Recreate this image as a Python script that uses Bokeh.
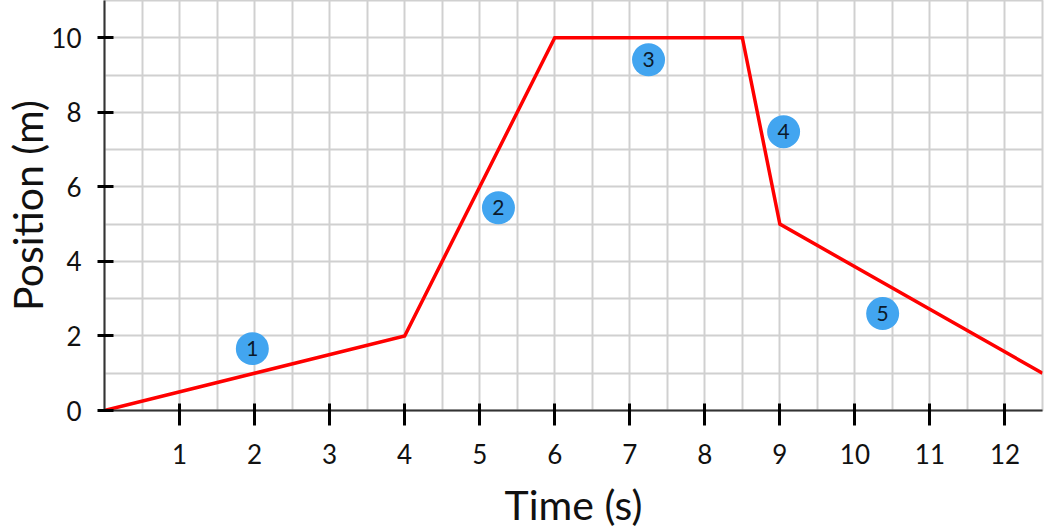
from bokeh.plotting import figure
from bokeh.models import ColumnDataSource, FixedTicker, Range1d
from bokeh.core.properties import value
from bokeh.embed import file_html
from bokeh.resources import INLINE
import numpy as np

# ---- data ----
time_s = [0, 4, 6, 8.5, 9, 12.5]
position_m = [0, 2, 10, 10, 5, 1]

segment_x = [1.97, 5.25, 7.25, 9.05, 10.37]
segment_y = [1.66, 5.44, 9.41, 7.48, 2.60]
segment_labels = ["1", "2", "3", "4", "5"]

x_ticks = [1, 2, 3, 4, 5, 6, 7, 8, 9, 10, 11, 12]
y_ticks = [0, 2, 4, 6, 8, 10]

x_title = "Time (s)"
y_title = "Position (m)"

FONT = "Lato"
GRID = "#d0d0d0"
TXT = "#111111"

p = figure(
    frame_width=938, frame_height=410,
    x_range=Range1d(0, 12.5), y_range=Range1d(0, 11),
    output_backend="svg", toolbar_location=None,
    min_border_left=104, min_border_right=2, min_border_top=0, min_border_bottom=122,
    background_fill_color="white", border_fill_color="white",
)
p.outline_line_color = GRID
p.outline_line_width = 2

# grid
p.xgrid.ticker = FixedTicker(ticks=list(np.arange(0.5, 12.51, 0.5)))
p.ygrid.ticker = FixedTicker(ticks=list(range(1, 11)))
for g in (p.xgrid, p.ygrid):
    g.grid_line_color = GRID
    g.grid_line_width = 2

# x axis
xa = p.xaxis[0]
xa.ticker = FixedTicker(ticks=x_ticks)
xa.axis_line_color = "#333333"
xa.axis_line_width = 2
xa.major_tick_line_color = "black"
xa.major_tick_line_width = 3
xa.major_tick_out = 15
xa.major_tick_in = 7
xa.minor_tick_line_color = None
xa.major_label_standoff = 18
xa.major_label_text_font = FONT
xa.major_label_text_font_size = "26px"
xa.major_label_text_color = TXT
xa.axis_label = x_title
xa.axis_label_text_font = FONT
xa.axis_label_text_font_size = "41px"
xa.axis_label_text_font_style = "normal"
xa.axis_label_text_color = TXT
xa.axis_label_standoff = 13

# y axis
ya = p.yaxis[0]
ya.ticker = FixedTicker(ticks=y_ticks)
ya.axis_line_color = "#333333"
ya.axis_line_width = 2
ya.major_tick_line_color = "black"
ya.major_tick_line_width = 3
ya.major_tick_out = 7
ya.major_tick_in = 9
ya.minor_tick_line_color = None
ya.major_label_standoff = 16
ya.major_label_text_font = FONT
ya.major_label_text_font_size = "26px"
ya.major_label_text_color = TXT
ya.axis_label = y_title
ya.axis_label_text_font = FONT
ya.axis_label_text_font_size = "41px"
ya.axis_label_text_font_style = "normal"
ya.axis_label_text_color = TXT
ya.axis_label_standoff = -4

# line
p.line(time_s, position_m, line_color="#ff0000", line_width=3.5, line_join="miter")

# numbered markers
src = ColumnDataSource(dict(x=segment_x, y=segment_y, t=segment_labels))
p.scatter("x", "y", source=src, size=33, fill_color="#42a5f0", line_color=None)
p.text("x", "y", text="t", source=src, text_align="center", text_baseline="middle",
       text_font=value(FONT), text_font_size="21px", text_color="#0b1a2c")

open("out.html", "w").write(file_html(p, INLINE))
